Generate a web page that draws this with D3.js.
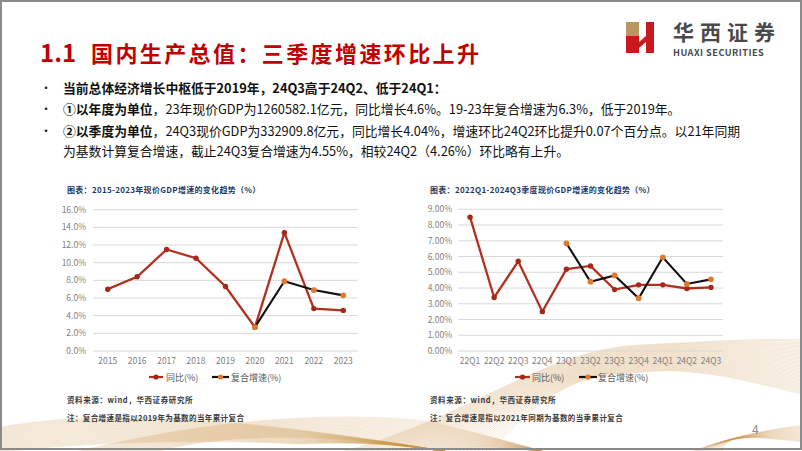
<!DOCTYPE html>
<html><head><meta charset="utf-8">
<script src="https://cdn.jsdelivr.net/npm/d3@7/dist/d3.min.js"></script>
<style>
html,body{margin:0;padding:0;background:#fff;}
svg{display:block;}
text{font-family:"Noto Sans CJK SC","Noto Sans",sans-serif;}
</style></head>
<body>
<svg id="c" width="802" height="451"></svg>
<script>
// ---------- data ----------
const years = ['2015','2016','2017','2018','2019','2020','2021','2022','2023'];
const yoyAnnual = [7.0, 8.4, 11.5, 10.5, 7.3, 2.7, 13.4, 4.8, 4.6];
const cagrAnnual = [null, null, null, null, null, 2.7, 7.9, 6.9, 6.3];
const annualTicks = [0, 2, 4, 6, 8, 10, 12, 14, 16];

const quarters = ['22Q1','22Q2','22Q3','22Q4','23Q1','23Q2','23Q3','23Q4','24Q1','24Q2','24Q3'];
const yoyQuarter = [8.5, 3.4, 5.7, 2.5, 5.2, 5.4, 3.9, 4.2, 4.2, 3.97, 4.04];
const cagrQuarter = [null, null, null, null, 6.84, 4.4, 4.8, 3.35, 5.95, 4.26, 4.55];
const quarterTicks = [0, 1, 2, 3, 4, 5, 6, 7, 8, 9];

const seriesNames = ['同比(%)', '复合增速(%)'];

const svg = d3.select('#c');
const RED = '#b0321e', RED_M = '#a0291a', ORANGE = '#e0782e', BLACK = '#111';

// ---------- background decoration (golden waves) ----------
const deco = svg.append('g');
const gold = '#c98f45';
for (let i = 0; i < 40; i++) {
  const p = d3.path();
  p.moveTo(330 + i * 4, 455);
  p.bezierCurveTo(470 + i * 2, 420 - i * 0.8, 540 + i, 350 + i * 0.6, 640, 345 + i * 0.7);
  p.bezierCurveTo(700, 342 + i * 0.6, 760, 338 + i * 1.2, 805, 340 + i * 1.4);
  deco.append('path').attr('d', p.toString()).attr('fill', 'none')
    .attr('stroke', gold).attr('stroke-opacity', 0.3).attr('stroke-width', 0.7);
}
for (let i = 0; i < 36; i++) {
  const p = d3.path();
  p.moveTo(-5, 428 + i * 0.7);
  p.bezierCurveTo(90, 410 + i * 0.9, 200, 418 + i * 0.6, 300, 430 + i * 0.4);
  p.bezierCurveTo(380, 440, 440, 450, 470, 456);
  deco.append('path').attr('d', p.toString()).attr('fill', 'none')
    .attr('stroke', gold).attr('stroke-opacity', 0.24).attr('stroke-width', 0.7);
}
for (let i = 0; i < 30; i++) {
  const p = d3.path();
  p.moveTo(60 + i * 3, 456);
  p.bezierCurveTo(180, 425 + i * 0.5, 300, 410 + i * 0.6, 420, 420 + i);
  p.bezierCurveTo(470, 430 + i * 0.6, 520, 445, 560, 456);
  deco.append('path').attr('d', p.toString()).attr('fill', 'none')
    .attr('stroke', gold).attr('stroke-opacity', 0.22).attr('stroke-width', 0.7);
}
for (let i = 0; i < 22; i++) {
  const p = d3.path();
  p.moveTo(680 + i * 2, 456);
  p.bezierCurveTo(720, 440 - i * 0.5, 760, 430 + i * 0.4, 805, 425 + i * 0.8);
  deco.append('path').attr('d', p.toString()).attr('fill', 'none')
    .attr('stroke', gold).attr('stroke-opacity', 0.26).attr('stroke-width', 0.7);
}

// ---------- frame ----------
svg.append('rect').attr('x', 1).attr('y', 1).attr('width', 800).attr('height', 448)
  .attr('fill', 'none').attr('stroke', '#8a8a8a').attr('stroke-width', 2);

// ---------- title ----------
svg.append('text').attr('x', 40).attr('y', 62).attr('fill', '#c00000')
  .attr('font-family', '"Liberation Sans",Arial,sans-serif').attr('font-weight', 700)
  .attr('font-size', 24).text('1.1');
svg.append('text').attr('x', 91).attr('y', 62).attr('fill', '#c00000')
  .attr('font-weight', 700).attr('font-size', 22).attr('letter-spacing', 2.4)
  .text('国内生产总值：三季度增速环比上升');

// ---------- logo ----------
const logo = svg.append('g');
logo.append('rect').attr('x', 626).attr('y', 22).attr('width', 13).attr('height', 14).attr('fill', '#b89860');
logo.append('path').attr('d', 'M626,36 L639,36 L639,42 L646,36 L646,22 L654,22 L654,53 L646,53 L646,42 L639,48 L639,53 L626,53 Z').attr('fill', '#c8191f');
logo.append('text').attr('x', 673).attr('y', 40).attr('fill', '#4a4a4a')
  .attr('font-family', '"Noto Serif CJK SC","Noto Sans CJK SC",serif').attr('font-weight', 700)
  .attr('font-size', 21).attr('letter-spacing', 6).text('华西证券');
logo.append('text').attr('x', 673).attr('y', 56).attr('fill', '#4a4a4a')
  .attr('font-family', '"Open Sans","Liberation Sans",sans-serif').attr('font-weight', 600)
  .attr('font-size', 9.2).attr('letter-spacing', 0.45).text('HUAXI SECURITIES');

// ---------- bullets ----------
const bullets = [
  {y: 93, parts: [['当前总体经济增长中枢低于2019年，24Q3高于24Q2、低于24Q1：', 700]], dot: true},
  {y: 114, parts: [['①以年度为单位', 700], ['，23年现价GDP为1260582.1亿元，同比增长4.6%。19-23年复合增速为6.3%，低于2019年。', 400]], dot: true},
  {y: 136, parts: [['②以季度为单位', 700], ['，24Q3现价GDP为332909.8亿元，同比增长4.04%，增速环比24Q2环比提升0.07个百分点。以21年同期', 400]], dot: true},
  {y: 156, parts: [['为基数计算复合增速，截止24Q3复合增速为4.55%，相较24Q2（4.26%）环比略有上升。', 400]], dot: false}
];
bullets.forEach(b => {
  if (b.dot) svg.append('text').attr('x', 40).attr('y', b.y).attr('font-size', 12).attr('fill', '#222').text('•');
  const t = svg.append('text').attr('x', 63).attr('y', b.y).attr('font-size', 12.8).attr('fill', '#111');
  b.parts.forEach(p => t.append('tspan').attr('font-weight', p[1]).text(p[0]));
});

// ---------- chart builder ----------
function drawChart(o) {
  const g = svg.append('g');
  const x = d3.scaleBand().domain(o.cats).range([o.x0, o.x1]).padding(0);
  const y = d3.scaleLinear().domain([0, o.ymax]).range([o.yb, o.yt]);
  const cx = d => x(d) + x.bandwidth() / 2;

  g.append('text').attr('x', o.titleX).attr('y', 193).attr('font-size', 8).attr('font-weight', 700)
    .attr('fill', '#1f3864').attr('letter-spacing', 0.3).text(o.title);

  g.selectAll('line.grid').data(o.ticks).join('line')
    .attr('x1', o.x0).attr('x2', o.x1).attr('y1', d => y(d)).attr('y2', d => y(d))
    .attr('stroke', '#d9d9d9').attr('stroke-width', 1);
  g.selectAll('text.yl').data(o.ticks).join('text')
    .attr('x', o.ylx).attr('y', d => y(d) + 3).attr('text-anchor', 'end')
    .attr('font-family', '"Liberation Sans",Arial,sans-serif')
    .attr('font-size', 8.5).attr('fill', '#808080').text(o.fmt);
  g.selectAll('text.xl').data(o.cats).join('text')
    .attr('x', d => cx(d)).attr('y', 364).attr('text-anchor', 'middle')
    .attr('font-family', '"Liberation Sans",Arial,sans-serif')
    .attr('font-size', 8.5).attr('fill', '#808080').text(d => d);

  const line = d3.line().defined(d => d.v != null).x(d => cx(d.c)).y(d => y(d.v));
  const s1 = o.cats.map((c, i) => ({c, v: o.yoy[i]}));
  const s2 = o.cats.map((c, i) => ({c, v: o.cagr[i]}));

  g.append('path').attr('d', line(s1)).attr('fill', 'none').attr('stroke', RED).attr('stroke-width', 2.3);
  g.selectAll('circle.s1').data(s1).join('circle').attr('cx', d => cx(d.c)).attr('cy', d => y(d.v))
    .attr('r', 2.7).attr('fill', RED_M);
  g.append('path').attr('d', line(s2)).attr('fill', 'none').attr('stroke', BLACK).attr('stroke-width', 2.1);
  g.selectAll('circle.s2').data(s2.filter(d => d.v != null)).join('circle').attr('cx', d => cx(d.c)).attr('cy', d => y(d.v))
    .attr('r', 2.9).attr('fill', ORANGE);

  const ly = 377;
  const items = [
    {x0: o.leg[0], x1: o.leg[1], tx: o.leg[2], stroke: RED, mark: RED_M, name: seriesNames[0]},
    {x0: o.leg[3], x1: o.leg[4], tx: o.leg[5], stroke: BLACK, mark: ORANGE, name: seriesNames[1]}
  ];
  items.forEach(it => {
    g.append('line').attr('x1', it.x0).attr('x2', it.x1).attr('y1', ly).attr('y2', ly)
      .attr('stroke', it.stroke).attr('stroke-width', 2.2);
    g.append('circle').attr('cx', (it.x0 + it.x1) / 2).attr('cy', ly).attr('r', 2.6).attr('fill', it.mark);
    g.append('text').attr('x', it.tx).attr('y', ly + 3.5).attr('font-size', 9).attr('fill', '#595959').text(it.name);
  });

  g.append('text').attr('x', o.titleX).attr('y', 403).attr('font-size', 7.5).attr('font-weight', 700)
    .attr('fill', '#3a3a3a').attr('letter-spacing', 0.6).text('资料来源：wind，华西证券研究所');
  g.append('text').attr('x', o.titleX).attr('y', 421).attr('font-size', 7.5).attr('font-weight', 700)
    .attr('fill', '#3a3a3a').attr('letter-spacing', 0.4).text(o.note);
}

drawChart({
  cats: years, yoy: yoyAnnual, cagr: cagrAnnual, ticks: annualTicks, ymax: 16,
  x0: 93, x1: 358, yb: 351, yt: 209.7, ylx: 86, titleX: 67,
  fmt: d => d.toFixed(1) + '%',
  title: '图表：2015-2023年现价GDP增速的变化趋势（%）',
  leg: [149, 163, 166, 212, 229, 231],
  note: '注：复合增速是指以2019年为基数的当年累计复合'
});
drawChart({
  cats: quarters, yoy: yoyQuarter, cagr: cagrQuarter, ticks: quarterTicks, ymax: 9,
  x0: 458, x1: 723, yb: 351, yt: 209.3, ylx: 452, titleX: 430,
  fmt: d => d.toFixed(2) + '%',
  title: '图表：2022Q1-2024Q3季度现价GDP增速的变化趋势（%）',
  leg: [515, 530, 532, 579, 597, 598],
  note: '注：复合增速是指以2021年同期为基数的当季累计复合'
});

svg.append('text').attr('x', 752).attr('y', 434).attr('font-family', '"Liberation Sans",Arial,sans-serif')
  .attr('font-size', 12).attr('fill', '#8c8c8c').text('4');
</script>
</body></html>
